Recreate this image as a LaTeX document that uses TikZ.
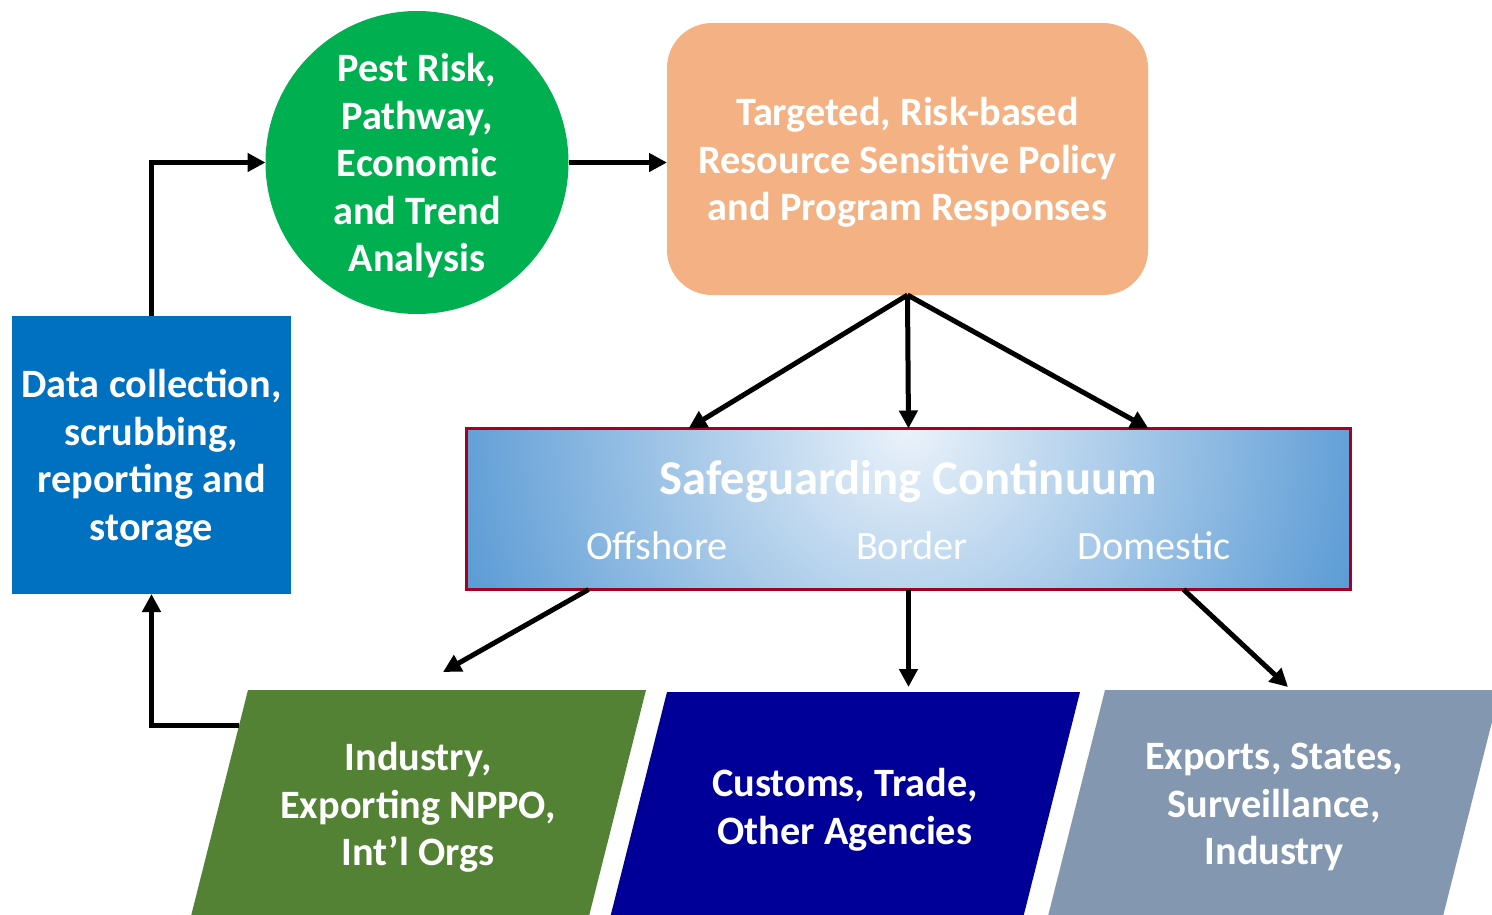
\documentclass[tikz,border=0pt]{standalone}
\usepackage{fontspec}
\setmainfont{Carlito}
\usetikzlibrary{arrows.meta,calc}
\definecolor{datablue}{HTML}{0070C0}
\definecolor{pestgreen}{HTML}{00B050}
\definecolor{policyorange}{HTML}{F4B183}
\definecolor{safered}{HTML}{A50021}
\definecolor{safeedge}{HTML}{5B9BD5}
\definecolor{safemid}{HTML}{EAF2FA}
\definecolor{indgreen}{HTML}{548235}
\definecolor{custnavy}{HTML}{000099}
\definecolor{expgray}{HTML}{8497B0}
\begin{document}
\begin{tikzpicture}[x=1pt, y=-1pt, line join=miter, >={Triangle[length=18pt,width=18pt]}]
	\tikzset{box/.style={inner sep=0pt, outer sep=0pt, align=center, text=white, text depth=0pt, font=\fontsize{40.3}{47.5}\selectfont\bfseries},
		safe text/.style={inner sep=0pt, text=white, font=\fontsize{40.3}{47.5}\selectfont},
		arr/.style={->, line width=5pt}}
	\useasboundingbox (0,0) rectangle (1492,914);
	\clip (0,0) rectangle (1492,914);
	\node[box, fill=datablue, minimum width=279pt, minimum height=278pt] (data) at (151.5,455) {Data collection,\\scrubbing,\\reporting and\\storage};
	\node[box, circle, fill=pestgreen, minimum size=303pt] (pest) at (417,162.5) {Pest Risk,\\Pathway,\\Economic\\and Trend\\Analysis};
	\node[box, fill=policyorange, rounded corners=45pt, minimum width=481pt, minimum height=272pt] (policy) at (907.5,159) {Targeted, Risk-based\\Resource Sensitive Policy\\and Program Responses};
	\node[box, draw=safered, line width=3pt, fill=safeedge, minimum width=884pt, minimum height=161pt,
		path picture={\fill[inner color=safemid, outer color=safeedge] (path picture bounding box.north) circle[radius=470];}] (safe) at (908.5,509) {};
	\node[safe text, font=\fontsize{48.6}{56}\selectfont\bfseries] (title) at (908,482) {Safeguarding Continuum};
	\node[safe text] (offshore) at (657,546) {Offshore};
	\node[safe text] (border) at (912,546) {Border};
	\node[safe text] (domestic) at (1154,546) {Domestic};
	\fill[indgreen] (248,690) coordinate (indtl) -- (646,690) -- (585.5,930) -- (187.5,930) coordinate (indbl) -- cycle;
	\fill[custnavy] (667,692) coordinate (custtl) -- (1080,692) -- (1019.5,932) -- (606.5,932) -- cycle;
	\fill[expgray] (1105,690) coordinate (exptl) -- (1500,690) -- (1439.5,930) -- (1044.5,930) -- cycle;
	\node[box] (ind) at (418,804) {Industry,\\Exporting NPPO,\\Int’l Orgs};
	\node[box] (cust) at (845,806.5) {Customs, Trade,\\Other Agencies};
	\node[box] (exp) at (1274,804) {Exports, States,\\Surveillance,\\Industry};
	\coordinate (indtop) at ($(indtl)+(195,-18)$);
	\coordinate (custtop) at ($(custtl)+(241,-5)$);
	\coordinate (exptop) at ($(exptl)+(183,-3)$);
	\draw[arr] (data.north) |- (pest.west);
	\draw[arr] (pest.east) -- (policy.west |- pest.east);
	\draw[arr] (policy.south) -- ($(safe.north)+(-220,0)$);
	\draw[arr] (policy.south) -- (safe.north);
	\draw[arr] (policy.south) -- ($(safe.north)+(240,0)$);
	\draw[arr] ($(safe.south)+(-320,0)$) -- (indtop);
	\draw[arr] (safe.south) -- (safe.south |- custtop);
	\draw[arr] ($(safe.south)+(275,0)$) -- (exptop);
	\draw[arr] ($(indtl)!0.146!(indbl)$) -| (data.south);
\end{tikzpicture}
\end{document}
